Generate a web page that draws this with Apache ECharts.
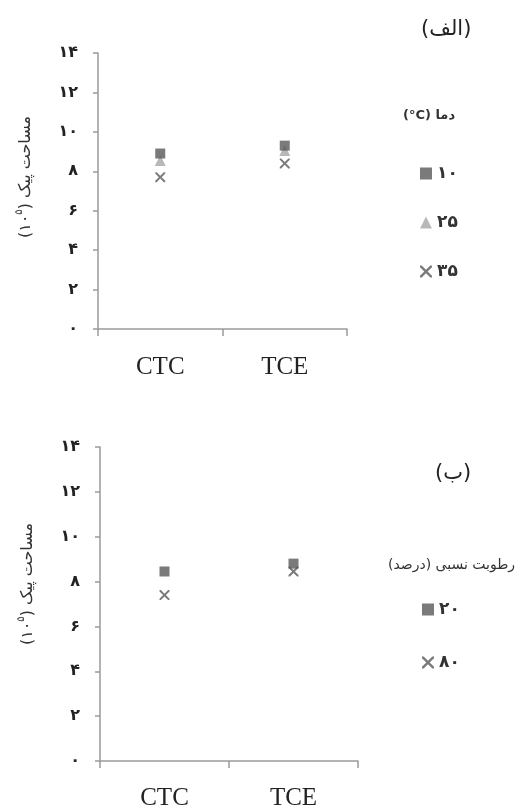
<!DOCTYPE html>
<html>
<head>
<meta charset="utf-8">
<script src="https://cdn.jsdelivr.net/npm/echarts@6/dist/echarts.min.js"></script>
<style>
html,body{margin:0;padding:0;background:#fff;}
#c{width:518px;height:811px;}
</style>
</head>
<body>
<div id="c"></div>
<script>
// ---- data ----
const categories = ['CTC', 'TCE'];
const yTickLabels = ['۰', '۲', '۴', '۶', '۸', '۱۰', '۱۲', '۱۴'];
const tempNames = ['۱۰', '۲۵', '۳۵'];
const temp10 = [8.9, 9.3];
const temp25 = [8.55, 9.05];
const temp35 = [7.7, 8.4];
const rhNames = ['۲۰', '۸۰'];
const rh20 = [8.45, 8.8];
const rh80 = [7.4, 8.45];

const panelA = '(الف)';
const panelB = '(ب)';
const legendTitleA = '(°C) دما';
const legendTitleB = 'رطوبت نسبی (درصد)\u200F';
const yName = ['(', '۱۰', '۵', ')', ' مساحت پیک'];

// ---- styling ----
const faFont = 'DejaVu Sans';
const axisGray = '#9a9a9a';
const dark = '#595959';
const light = '#a6a6a6';
const crossPath = 'path://M0,0 L1.4,0 L5,3.6 L8.6,0 L10,0 L10,1.4 L6.4,5 L10,8.6 L10,10 L8.6,10 L5,6.4 L1.4,10 L0,10 L0,8.6 L3.6,5 L0,1.4 Z';

function yAxisCfg(gridIndex, padLeft) {
  return {
    gridIndex: gridIndex, type: 'value', min: 0, max: 14, interval: 2,
    splitLine: {show: false},
    axisLine: {show: true, lineStyle: {color: axisGray, width: 1.5}},
    axisTick: {show: true, length: 5, lineStyle: {color: axisGray, width: 1.5}},
    axisLabel: {margin: 20, color: '#222', fontFamily: faFont, fontSize: 16, fontWeight: 'bold',
      formatter: v => yTickLabels[Math.round(v / 2)]},
    name: '{n|' + yName[0] + '}{n|' + yName[1] + '}{s|' + yName[2] + '}{n|' + yName[3] + '}{n|' + yName[4] + '}',
    nameLocation: 'middle', nameRotate: 90, nameGap: 64,
    nameTextStyle: {
      padding: [0, 0, 0, padLeft],
      rich: {
        n: {fontFamily: faFont, fontSize: 16, color: '#333', verticalAlign: 'bottom', lineHeight: 20},
        s: {fontFamily: faFont, fontSize: 10, color: '#333', verticalAlign: 'top', lineHeight: 20, padding: [0, 0, 8, 0]}
      }
    }
  };
}
function xAxisCfg(gridIndex, margin) {
  return {
    gridIndex: gridIndex, type: 'category', data: categories, boundaryGap: true,
    axisLine: {show: true, lineStyle: {color: axisGray, width: 1.5}},
    axisTick: {show: true, length: 7, alignWithLabel: false, lineStyle: {color: axisGray, width: 1.5}},
    axisLabel: {margin: margin, color: '#222', fontFamily: 'Liberation Serif', fontSize: 25}
  };
}

const chart = echarts.init(document.getElementById('c'), null, {renderer: 'canvas'});
chart.setOption({
  animation: false,
  backgroundColor: '#fff',
  grid: [
    {left: 98, top: 53, width: 249, height: 276},
    {left: 100, top: 447, width: 258, height: 316}
  ],
  xAxis: [xAxisCfg(0, 26), xAxisCfg(1, 25)],
  yAxis: [yAxisCfg(0, 28), yAxisCfg(1, 40)],
  title: [
    {text: panelA, left: 416, top: 14, textStyle: {fontFamily: faFont, fontSize: 21, fontWeight: 'normal', color: '#222'}},
    {text: legendTitleA, left: 398, top: 104, textStyle: {fontFamily: faFont, fontSize: 13, fontWeight: 'bold', color: '#333'}},
    {text: panelB, left: 430, top: 458, textStyle: {fontFamily: faFont, fontSize: 21, fontWeight: 'normal', color: '#222'}},
    {text: legendTitleB, left: 383, top: 553, textStyle: {fontFamily: faFont, fontSize: 14, fontWeight: 'normal', color: '#333'}}
  ],
  legend: [
    {data: tempNames, orient: 'vertical', left: 415, top: 160, itemGap: 32, itemWidth: 12, itemHeight: 12,
      textStyle: {fontFamily: faFont, fontSize: 17, fontWeight: 'bold', color: '#333'}, selectedMode: false},
    {data: rhNames, orient: 'vertical', left: 417, top: 596, itemGap: 36, itemWidth: 12, itemHeight: 12,
      textStyle: {fontFamily: faFont, fontSize: 17, fontWeight: 'bold', color: '#333'}, selectedMode: false}
  ],
  series: [
    {name: tempNames[1], type: 'scatter', xAxisIndex: 0, yAxisIndex: 0, data: temp25, symbol: 'triangle', symbolSize: 11, itemStyle: {color: light}},
    {name: tempNames[0], type: 'scatter', xAxisIndex: 0, yAxisIndex: 0, data: temp10, symbol: 'rect', symbolSize: 10, itemStyle: {color: dark}},
    {name: tempNames[2], type: 'scatter', xAxisIndex: 0, yAxisIndex: 0, data: temp35, symbol: crossPath, symbolSize: 10, itemStyle: {color: dark}},
    {name: rhNames[0], type: 'scatter', xAxisIndex: 1, yAxisIndex: 1, data: rh20, symbol: 'rect', symbolSize: 10, itemStyle: {color: dark}},
    {name: rhNames[1], type: 'scatter', xAxisIndex: 1, yAxisIndex: 1, data: rh80, symbol: crossPath, symbolSize: 10, itemStyle: {color: dark}}
  ]
});
</script>
</body>
</html>
